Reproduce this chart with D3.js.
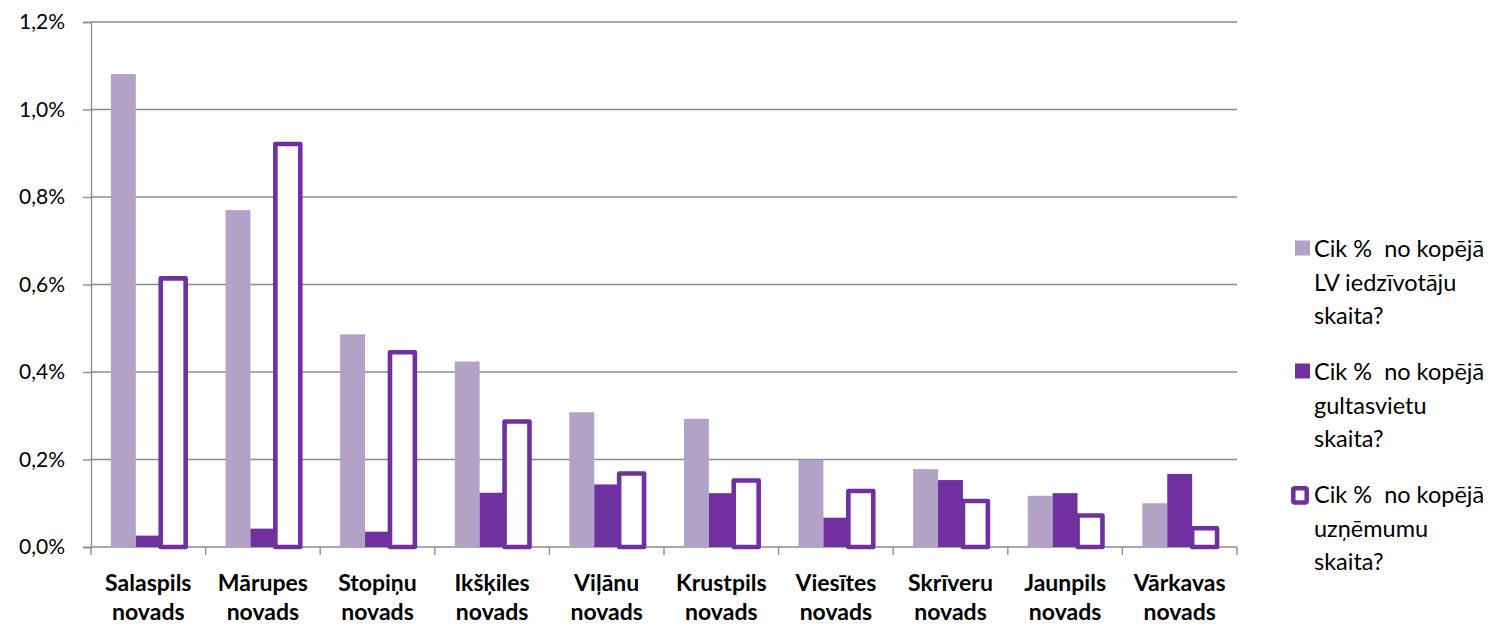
<!DOCTYPE html>
<html><head><meta charset="utf-8">
<script src="https://cdn.jsdelivr.net/npm/d3@7"></script>
<style>
html,body{margin:0;padding:0;background:#fff;}
svg{display:block;}
text{font-family:Lato,"Open Sans",sans-serif;fill:#000;}
.lgtext{white-space:pre;}
</style></head>
<body>
<svg id="chart" width="1494" height="625"></svg>
<script>
const categories = ["Salaspils novads","Mārupes novads","Stopiņu novads","Ikšķiles novads","Viļānu novads","Krustpils novads","Viesītes novads","Skrīveru novads","Jaunpils novads","Vārkavas novads"];
const seriesNames = ["Cik %  no kopējā LV iedzīvotāju skaita?","Cik %  no kopējā gultasvietu skaita?","Cik %  no kopējā uzņēmumu skaita?"];
const legendLines = [["Cik %  no kopējā","LV iedzīvotāju","skaita?"],["Cik %  no kopējā","gultasvietu","skaita?"],["Cik %  no kopējā","uzņēmumu","skaita?"]];
const population = [1.081, 0.770, 0.486, 0.424, 0.308, 0.293, 0.199, 0.178, 0.117, 0.100];
const beds       = [0.026, 0.042, 0.035, 0.124, 0.143, 0.123, 0.067, 0.153, 0.123, 0.167];
const companies  = [0.614, 0.921, 0.445, 0.287, 0.168, 0.152, 0.128, 0.105, 0.072, 0.043];
const yTicks = [0, 0.2, 0.4, 0.6, 0.8, 1.0, 1.2];

const series = [population, beds, companies];
const colors = ["#b3a2c7", "#7030a0", "#7030a0"];
const gridColor = "#8c8c8c";

const svg = d3.select("#chart");
const mLeft = 91, mRight = 1237, mTop = 22, mBottom = 547;

const x = d3.scaleBand().domain(categories).range([mLeft, mRight]).paddingInner(0).paddingOuter(0);
const xs = d3.scaleBand().domain([0,1,2]).range([0, x.bandwidth()]).paddingInner(0).paddingOuter(0.8);
const y = d3.scaleLinear().domain([0, 1.2]).range([mBottom, mTop]);
const fmt = v => d3.format(".1f")(v).replace(".", ",") + "%";

// gridlines
svg.append("g").selectAll("line").data(yTicks.filter(t => t > 0)).join("line")
  .attr("x1", mLeft).attr("x2", mRight)
  .attr("y1", d => y(d)).attr("y2", d => y(d))
  .attr("stroke", gridColor).attr("stroke-width", 1.4);

// y axis
const yAxis = d3.axisLeft(y).tickValues(yTicks).tickFormat(fmt).tickSize(8).tickPadding(18);
const gy = svg.append("g").attr("transform", `translate(${mLeft},0)`).call(yAxis);
gy.select(".domain").attr("stroke", gridColor).attr("stroke-width", 1.4);
gy.selectAll(".tick line").attr("stroke", gridColor).attr("stroke-width", 1.4);
gy.selectAll(".tick text").attr("font-size", 21).attr("font-family", "Lato").attr("fill", "#000");

// x axis
const xAxisG = svg.append("g").attr("transform", `translate(0,${mBottom})`);
xAxisG.append("line").attr("x1", mLeft).attr("x2", mRight).attr("stroke", gridColor).attr("stroke-width", 1.4);
const bounds = categories.map(c => x(c)).concat([mRight]);
xAxisG.selectAll("line.t").data(bounds).join("line").attr("class","t")
  .attr("x1", d => d).attr("x2", d => d).attr("y1", 0).attr("y2", 8)
  .attr("stroke", gridColor).attr("stroke-width", 1.4);

// x labels
const xl = svg.append("g").selectAll("text").data(categories).join("text")
  .attr("x", d => x(d) + x.bandwidth()/2)
  .attr("text-anchor", "middle").attr("font-weight", "bold").attr("font-size", 23);
xl.each(function(d){
  const parts = d.split(" ");
  const t = d3.select(this);
  t.append("tspan").attr("x", x(d) + x.bandwidth()/2).attr("y", 591).text(parts[0]);
  t.append("tspan").attr("x", x(d) + x.bandwidth()/2).attr("y", 620).text(parts[1]);
});

// bars
const barsG = svg.append("g");
series.forEach((vals, si) => {
  const g = barsG.append("g");
  const sel = g.selectAll("rect").data(vals.map((v,i)=>({v, c: categories[i]}))).join("rect")
    .attr("x", d => x(d.c) + xs(si))
    .attr("width", xs.bandwidth())
    .attr("y", d => y(d.v))
    .attr("height", d => y(0) - y(d.v));
  if (si < 2) {
    sel.attr("fill", colors[si]);
  } else {
    sel.attr("fill", "#fff").attr("stroke", colors[si]).attr("stroke-width", 4.6).attr("stroke-linejoin", "round");
  }
});

// legend
const lg = svg.append("g");
const legendBase = [257, 380, 503];
seriesNames.forEach((name, i) => {
  const base = legendBase[i];
  if (i < 2) {
    lg.append("rect").attr("x", 1295).attr("y", base - 16.5).attr("width", 15).attr("height", 15).attr("fill", colors[i]);
  } else {
    lg.append("rect").attr("x", 1293.3).attr("y", base - 14.8).attr("width", 13.4).attr("height", 14.4)
      .attr("rx", 1.5)
      .attr("fill", "#fff").attr("stroke", colors[i]).attr("stroke-width", 4.5).attr("stroke-linejoin", "round");
  }
  const t = lg.append("text").attr("class", "lgtext").attr("font-size", 23.5);
  legendLines[i].forEach((ln, j) => {
    t.append("tspan").attr("x", 1314).attr("y", base + j*33.7).text(ln);
  });
});
</script>
</body></html>
